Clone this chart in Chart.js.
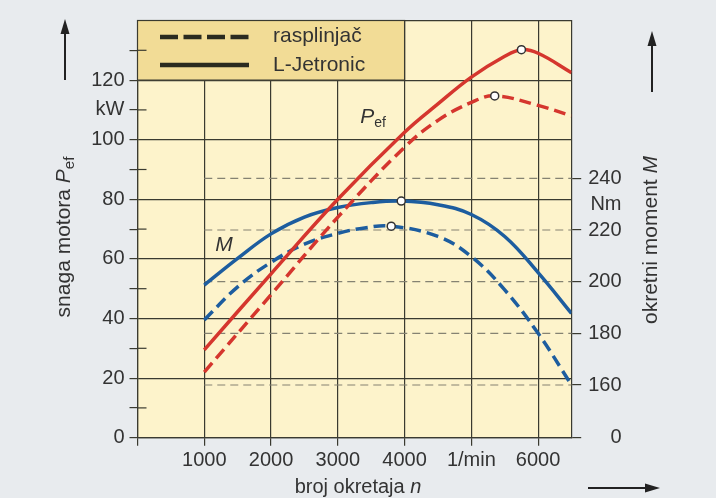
<!DOCTYPE html>
<html>
<head>
<meta charset="utf-8">
<script src="https://cdn.jsdelivr.net/npm/chart.js@4.4.1/dist/chart.umd.min.js"></script>
<style>
  html, body { margin: 0; padding: 0; background: #e8ebee; }
  canvas { display: block; }
</style>
</head>
<body>
<canvas id="engineChart" width="716" height="498"></canvas>
<script>
// Engine speed (1/min) and readings for each curve
const rpmPowerLJ = [1000, 2000, 3000, 4000, 4500, 5000, 5500, 5750, 6000, 6500];
const powerLJ = [29.5, 55, 80, 102.5, 112, 121, 128, 130.2, 129, 122.5];

const rpmPowerCarb = [1000, 2000, 3000, 4000, 4500, 5000, 5350, 6000, 6500];
const powerCarb = [22, 48, 74, 97.5, 106.5, 112.5, 114.7, 111.5, 108];

const rpmTorqueLJ = [1000, 1500, 2000, 2500, 3000, 3500, 3950, 4500, 5000, 5500, 6000, 6500];
const torqueLJ = [198.7, 209, 218.5, 225, 228.7, 230.6, 231.2, 229.8, 226, 217.5, 203.5, 187.7];

const rpmTorqueCarb = [1000, 1500, 2000, 2500, 3000, 3400, 3800, 4500, 5000, 5500, 6000, 6500];
const torqueCarb = [185.2, 198, 207.5, 214.5, 218.7, 220.8, 221.5, 217.5, 209.7, 196.8, 180, 160];

// Axis ticks
const xTicks = [0, 1000, 2000, 3000, 4000, 5000, 6000];
const xTickLabels = ['', '1000', '2000', '3000', '4000', '1/min', '6000'];
const torqueTicks = [160, 180, 200, 220, 240];
const torqueZero = 139.6;   // bottom of the broken torque axis
const torqueTop = 301.1;

const red = '#d5362e';
const blue = '#1d5d9f';
const ink = '#3a3a30';
const textColor = '#333333';
const family = "'Liberation Sans', Arial, sans-serif";

Chart.defaults.font.family = family;
Chart.defaults.font.size = 20;
Chart.defaults.color = textColor;

function toPoints(xs, ys) {
    return xs.map((x, i) => ({ x: x, y: ys[i] }));
}

function peakRadius(values) {
    const peak = values.indexOf(Math.max(...values));
    return ctx => ctx.dataIndex === peak ? 4 : 0;
}

function curve(label, xs, ys, color, dashed, axis) {
    return {
        label: label,
        data: toPoints(xs, ys),
        yAxisID: axis,
        borderColor: color,
        borderWidth: 3.5,
        borderDash: dashed ? [12, 6] : [],
        tension: 0.4,
        pointRadius: peakRadius(ys),
        pointBackgroundColor: '#ffffff',
        pointBorderColor: '#333333',
        pointBorderWidth: 1.5,
        fill: false
    };
}

function drawRich(ctx, parts, x, y, angle) {
    ctx.save();
    ctx.translate(x, y);
    ctx.rotate(angle);
    ctx.textBaseline = 'alphabetic';
    ctx.textAlign = 'left';
    let total = 0;
    parts.forEach(p => { ctx.font = p.font; total += ctx.measureText(p.text).width; });
    let cx = -total / 2;
    parts.forEach(p => {
        ctx.font = p.font;
        ctx.fillText(p.text, cx, p.dy || 0);
        cx += ctx.measureText(p.text).width;
    });
    ctx.restore();
}

function arrow(ctx, x1, y1, x2, y2) {
    const a = Math.atan2(y2 - y1, x2 - x1);
    ctx.save();
    ctx.strokeStyle = '#222';
    ctx.fillStyle = '#222';
    ctx.lineWidth = 2;
    ctx.beginPath();
    ctx.moveTo(x1, y1);
    ctx.lineTo(x2 - 10 * Math.cos(a), y2 - 10 * Math.sin(a));
    ctx.stroke();
    ctx.translate(x2, y2);
    ctx.rotate(a);
    ctx.beginPath();
    ctx.moveTo(0, 0);
    ctx.lineTo(-15, -4.5);
    ctx.lineTo(-15, 4.5);
    ctx.closePath();
    ctx.fill();
    ctx.restore();
}

const paperPlugin = {
    id: 'paper',
    beforeDraw(chart) {
        const { ctx, chartArea: a } = chart;
        ctx.save();
        ctx.fillStyle = '#fdf3cb';
        ctx.fillRect(a.left, a.top, a.right - a.left, a.bottom - a.top);
        ctx.restore();
    },
    beforeDatasetsDraw(chart) {
        const { ctx, chartArea: a, scales } = chart;
        const x = scales.x, y = scales.y, y2 = scales.y2;
        ctx.save();
        // dashed torque grid, starting at 1000 1/min
        ctx.strokeStyle = '#858272';
        ctx.lineWidth = 1.2;
        ctx.setLineDash([8, 5]);
        torqueTicks.forEach(v => {
            const py = y2.getPixelForValue(v);
            ctx.beginPath();
            ctx.moveTo(x.getPixelForValue(1000), py);
            ctx.lineTo(a.right, py);
            ctx.stroke();
        });
        ctx.setLineDash([]);
        // legend box
        const bx2 = x.getPixelForValue(4000);
        const by2 = y.getPixelForValue(120);
        ctx.fillStyle = '#f2dc96';
        ctx.fillRect(a.left, a.top, bx2 - a.left, by2 - a.top);
        ctx.strokeStyle = ink;
        ctx.lineWidth = 1.2;
        ctx.strokeRect(a.left, a.top, bx2 - a.left, by2 - a.top);
        // inner half of the minor power ticks
        [10, 30, 50, 70, 90, 110, 130].forEach(v => {
            const py = y.getPixelForValue(v);
            ctx.beginPath();
            ctx.moveTo(a.left, py);
            ctx.lineTo(a.left + 9, py);
            ctx.stroke();
        });
        // legend samples and text
        ctx.strokeStyle = '#2b2b20';
        ctx.lineWidth = 4.5;
        ctx.setLineDash([18, 5.5]);
        ctx.beginPath();
        ctx.moveTo(160, 37);
        ctx.lineTo(249, 37);
        ctx.stroke();
        ctx.setLineDash([]);
        ctx.beginPath();
        ctx.moveTo(160, 65);
        ctx.lineTo(249, 65);
        ctx.stroke();
        ctx.fillStyle = textColor;
        ctx.font = '21px ' + family;
        ctx.textBaseline = 'middle';
        ctx.fillText('rasplinjač', 273, 36);
        ctx.fillText('L-Jetronic', 273, 65);
        ctx.restore();
    },
    afterDraw(chart) {
        const ctx = chart.ctx;
        ctx.save();
        ctx.fillStyle = textColor;
        const normal = '21px ' + family;
        const italic = 'italic 21px ' + family;
        const sub = '15px ' + family;
        drawRich(ctx, [
            { text: 'snaga motora ', font: normal },
            { text: 'P', font: italic },
            { text: 'ef', font: sub, dy: 4 }
        ], 70, 237, -Math.PI / 2);
        drawRich(ctx, [
            { text: 'okretni moment ', font: normal },
            { text: 'M', font: italic }
        ], 657, 240, -Math.PI / 2);
        drawRich(ctx, [
            { text: 'broj okretaja ', font: '20px ' + family },
            { text: 'n', font: 'italic 20px ' + family }
        ], 358, 493, 0);
        drawRich(ctx, [
            { text: 'P', font: 'italic 21px ' + family },
            { text: 'ef', font: '14px ' + family, dy: 4 }
        ], 373, 123, 0);
        drawRich(ctx, [{ text: 'M', font: italic }], 224, 251, 0);
        arrow(ctx, 65, 80, 65, 19);
        arrow(ctx, 652, 92, 652, 31);
        arrow(ctx, 588, 488, 660, 488);
        ctx.restore();
    }
};

const ctx = document.getElementById('engineChart').getContext('2d');
new Chart(ctx, {
    type: 'line',
    data: {
        datasets: [
            curve('P rasplinjač', rpmPowerCarb, powerCarb, red, true, 'y'),
            curve('P L-Jetronic', rpmPowerLJ, powerLJ, red, false, 'y'),
            curve('M rasplinjač', rpmTorqueCarb, torqueCarb, blue, true, 'y2'),
            curve('M L-Jetronic', rpmTorqueLJ, torqueLJ, blue, false, 'y2')
        ]
    },
    options: {
        responsive: false,
        animation: false,
        layout: { padding: { top: 20.5, left: 0, right: 94.5, bottom: 0 } },
        plugins: {
            legend: { display: false },
            tooltip: { enabled: false }
        },
        scales: {
            x: {
                type: 'linear',
                min: 0,
                max: 6500,
                afterBuildTicks: s => { s.ticks = xTicks.map(v => ({ value: v })); },
                afterFit: s => { s.height = 60.3; },
                ticks: {
                    callback: v => xTickLabels[xTicks.indexOf(v)],
                    padding: 3,
                    maxRotation: 0,
                    autoSkip: false,
                    color: textColor
                },
                grid: { color: ink, lineWidth: 1.2, tickLength: 8, tickColor: ink },
                border: { color: ink, width: 1.2 }
            },
            y: {
                min: 0,
                max: 140,
                afterFit: s => { s.width = 137.5; },
                ticks: {
                    stepSize: 10,
                    padding: 5,
                    color: textColor,
                    callback: v => v === 110 ? 'kW' : (v % 20 === 0 && v <= 120 ? String(v) : '')
                },
                grid: {
                    lineWidth: 1.2,
                    tickLength: 8,
                    color: c => (c.tick && (c.tick.value % 20 === 0)) ? ink : 'rgba(0,0,0,0)',
                    tickColor: c => (c.tick && c.tick.value === 140) ? 'rgba(0,0,0,0)' : ink
                },
                border: { color: ink, width: 1.2 }
            },
            y2: {
                position: 'right',
                min: torqueZero,
                max: torqueTop,
                afterBuildTicks: s => {
                    s.ticks = [torqueZero, ...torqueTicks, 230].map(v => ({ value: v }));
                },
                afterFit: s => { s.width = 50; },
                ticks: {
                    crossAlign: 'far',
                    color: textColor,
                    callback: v => v === torqueZero ? '0' : (v === 230 ? 'Nm' : String(v))
                },
                grid: {
                    drawOnChartArea: false,
                    lineWidth: 1.2,
                    tickLength: 17,
                    tickBorderDash: [9, 40],
                    tickColor: c => (c.tick && c.tick.value === 230) ? 'rgba(0,0,0,0)' : ink
                },
                border: { color: ink, width: 1.2 }
            }
        }
    },
    plugins: [paperPlugin]
});
</script>
</body>
</html>
